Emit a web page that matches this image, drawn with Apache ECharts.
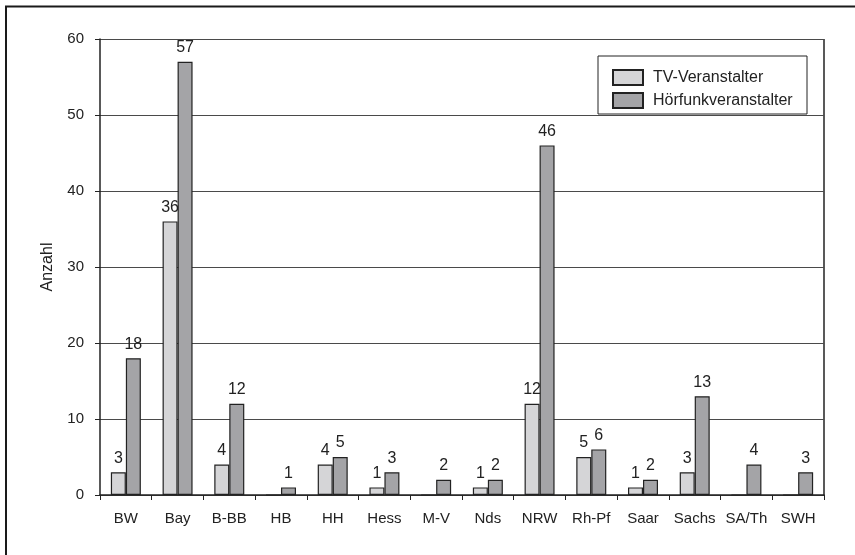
<!DOCTYPE html>
<html>
<head>
<meta charset="utf-8">
<script src="https://cdn.jsdelivr.net/npm/echarts@6/dist/echarts.min.js"></script>
<style>
  html, body { margin: 0; padding: 0; background: #fff; }
  #chart { width: 855px; height: 555px; }
</style>
</head>
<body>
<div id="chart"></div>
<script>
// Bundesländer (abbreviations as on the axis)
const categories = ['BW', 'Bay', 'B-BB', 'HB', 'HH', 'Hess', 'M-V', 'Nds', 'NRW', 'Rh-Pf', 'Saar', 'Sachs', 'SA/Th', 'SWH'];
// Number of broadcasters per state
const tvValues    = [3, 36, 4, 0, 4, 1, 0, 1, 12, 5, 1, 3, 0, 0];
const radioValues = [18, 57, 12, 1, 5, 3, 2, 2, 46, 6, 2, 13, 4, 3];
const seriesNames = ['TV-Veranstalter', 'Hörfunkveranstalter'];
const yTicks = { min: 0, max: 60, interval: 10 };

const FONT = '"Liberation Sans", Arial, sans-serif';
const INK = '#222';

const chart = echarts.init(document.getElementById('chart'), null, { renderer: 'canvas' });

const valueLabel = {
  show: true,
  position: 'top',
  distance: 6,
  fontFamily: FONT,
  fontSize: 16,
  color: INK,
  formatter: p => (p.value > 0 ? String(p.value) : '')
};

chart.setOption({
  animation: false,
  backgroundColor: '#fff',
  graphic: [
    // outer frame around the figure
    {
      type: 'rect',
      shape: { x: 6, y: 6.5, width: 900, height: 600 },
      style: { fill: 'none', stroke: '#1a1a1a', lineWidth: 2 },
      silent: true,
      z: -1
    },
    // right edge of the plot area
    {
      type: 'line',
      shape: { x1: 824, y1: 39, x2: 824, y2: 495 },
      style: { stroke: INK, lineWidth: 1.5 },
      silent: true
    },
    // legend frame
    {
      type: 'rect',
      shape: { x: 598, y: 56, width: 209, height: 58 },
      style: { fill: '#fff', stroke: INK, lineWidth: 1 },
      silent: true,
      z: 5
    }
  ],
  grid: { left: 100, top: 39, width: 724, height: 456, containLabel: false },
  legend: {
    orient: 'vertical',
    left: 612,
    top: 69,
    padding: 0,
    itemGap: 6,
    itemWidth: 30,
    itemHeight: 15,
    z: 10,
    textStyle: { fontFamily: FONT, fontSize: 16, lineHeight: 15, color: INK, padding: [0, 0, 0, 5] },
    data: seriesNames,
    icon: 'rect'
  },
  xAxis: {
    type: 'category',
    data: categories,
    axisLine: { lineStyle: { color: INK, width: 1.5 } },
    axisTick: { show: true, length: 5, alignWithLabel: false, lineStyle: { color: INK, width: 1 } },
    axisLabel: { fontFamily: FONT, fontSize: 15, color: INK, margin: 16, interval: 0 }
  },
  yAxis: {
    type: 'value',
    min: yTicks.min,
    max: yTicks.max,
    interval: yTicks.interval,
    name: 'Anzahl',
    nameLocation: 'middle',
    nameGap: 44,
    nameTextStyle: { fontFamily: FONT, fontSize: 16, color: INK },
    axisLine: { show: true, lineStyle: { color: INK, width: 1.5 } },
    axisTick: { show: true, length: 5, lineStyle: { color: INK, width: 1 } },
    axisLabel: { fontFamily: FONT, fontSize: 15, color: INK, margin: 16 },
    splitLine: { show: true, lineStyle: { color: '#4a4a4a', width: 1.2 } }
  },
  series: [
    {
      name: seriesNames[0],
      type: 'bar',
      data: tvValues,
      barGap: '0%',
      barCategoryGap: '42%',
      itemStyle: { color: '#d5d5d7', borderColor: INK, borderWidth: 1.2 },
      label: valueLabel
    },
    {
      name: seriesNames[1],
      type: 'bar',
      data: radioValues,
      barGap: '0%',
      barCategoryGap: '42%',
      itemStyle: { color: '#a4a4a7', borderColor: INK, borderWidth: 1.2 },
      label: valueLabel
    }
  ]
});
</script>
</body>
</html>
